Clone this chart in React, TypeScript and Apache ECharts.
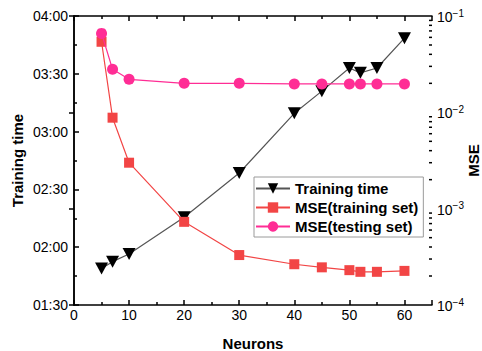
import React, { useEffect, useRef } from 'react';
import * as echarts from 'echarts';

const neurons = [5, 7, 10, 20, 30, 40, 45, 50, 52, 55, 60];
// training time in minutes
const trainingTime = [109, 112.5, 116.5, 135.5, 158.5, 189.5, 201, 213, 210.5, 213, 228.5];
const mseTraining = [0.054, 0.0088, 0.003, 0.00073, 0.00033, 0.000265, 0.000246, 0.00023, 0.000221, 0.000221, 0.000226];
const mseTesting = [0.066, 0.028, 0.022, 0.02, 0.02, 0.0197, 0.0197, 0.0197, 0.0197, 0.0197, 0.0197];
const logMinorTicks = [
  2e-4, 3e-4, 4e-4, 5e-4, 6e-4, 7e-4, 8e-4, 9e-4,
  2e-3, 3e-3, 4e-3, 5e-3, 6e-3, 7e-3, 8e-3, 9e-3,
  2e-2, 3e-2, 4e-2, 5e-2, 6e-2, 7e-2, 8e-2, 9e-2,
];

const BLACK = '#000000';
const GRAY_LINE = '#555555';
const RED = '#F24545';
const PINK = '#FF2D95';
const FONT = 'Arial, "Liberation Sans", sans-serif';

function fmtTime(v: number): string {
  const h = Math.floor(v / 60);
  const m = Math.round(v - h * 60);
  return String(h).padStart(2, '0') + ':' + String(m).padStart(2, '0');
}

export default function App() {
  const ref = useRef<HTMLDivElement>(null);
  useEffect(() => {
    if (!ref.current) return;
    const chart = echarts.init(ref.current, null, { renderer: 'svg' });
    const axisLine = { show: true, lineStyle: { color: BLACK, width: 1.5 } };
    chart.setOption({
      animation: false,
      backgroundColor: '#ffffff',
      grid: { left: 74, right: 50, top: 16, bottom: 46, containLabel: false, outerBoundsMode: 'none' },
      legend: {
        orient: 'vertical',
        left: 254,
        top: 177,
        padding: [4, 5, 3, 1],
        itemGap: 4,
        itemWidth: 34,
        itemHeight: 13,
        backgroundColor: '#ffffff',
        borderColor: '#9a9a9a',
        borderWidth: 1,
        borderRadius: 0,
        textStyle: { fontFamily: FONT, fontSize: 15, fontWeight: 'bold', color: BLACK, lineHeight: 15 },
        data: ['Training time', 'MSE(training set)', 'MSE(testing set)'],
      },
      xAxis: [
        {
          type: 'value',
          min: 0,
          max: 65,
          interval: 10,
          position: 'bottom',
          name: 'Neurons',
          nameLocation: 'middle',
          nameGap: 31,
          nameMoveOverlap: false,
          nameTextStyle: { fontFamily: FONT, fontSize: 15, fontWeight: 'bold', color: BLACK },
          axisLine,
          axisTick: { show: true, inside: true, length: 5, lineStyle: { color: BLACK, width: 1.5 } },
          minorTick: { show: true, splitNumber: 2, length: 3, lineStyle: { color: BLACK, width: 1.5 } },
          axisLabel: {
            margin: 3,
            fontFamily: FONT,
            fontSize: 14,
            color: BLACK,
            formatter: (v: number) => (v > 60 ? '' : String(v)),
          },
          splitLine: { show: false },
        },
        {
          type: 'value',
          min: 0,
          max: 65,
          interval: 10,
          position: 'top',
          axisLine,
          axisTick: { show: true, inside: true, length: 5, lineStyle: { color: BLACK, width: 1.5 } },
          minorTick: { show: true, splitNumber: 2, length: 3, lineStyle: { color: BLACK, width: 1.5 } },
          axisLabel: { show: false },
          splitLine: { show: false },
        },
      ],
      yAxis: [
        {
          type: 'value',
          min: 90,
          max: 240,
          interval: 30,
          position: 'left',
          name: 'Training time',
          nameLocation: 'middle',
          nameGap: 49,
          nameMoveOverlap: false,
          nameTextStyle: { fontFamily: FONT, fontSize: 15, fontWeight: 'bold', color: BLACK },
          axisLine,
          axisTick: { show: true, inside: true, length: 5, lineStyle: { color: BLACK, width: 1.5 } },
          minorTick: { show: true, splitNumber: 2, length: 3, lineStyle: { color: BLACK, width: 1.5 } },
          axisLabel: { margin: 6, fontFamily: FONT, fontSize: 14, color: BLACK, formatter: fmtTime },
          splitLine: { show: false },
        },
        {
          type: 'log',
          logBase: 10,
          min: 1e-4,
          max: 1e-1,
          position: 'right',
          name: 'MSE',
          nameLocation: 'middle',
          nameGap: 34,
          nameRotate: 90,
          nameMoveOverlap: false,
          nameTextStyle: { fontFamily: FONT, fontSize: 15, fontWeight: 'bold', color: BLACK },
          axisLine,
          axisTick: { show: true, inside: true, length: 5, lineStyle: { color: BLACK, width: 1.5 } },
          axisLabel: {
            margin: 5,
            fontFamily: FONT,
            color: BLACK,
            formatter: (v: number) => {
              const e = Math.round(Math.log10(v));
              return '{b|10}{s|\u2212' + Math.abs(e) + '}';
            },
            rich: {
              b: { fontFamily: FONT, fontSize: 14, color: BLACK, lineHeight: 16, verticalAlign: 'bottom' },
              s: { fontFamily: FONT, fontSize: 10, color: BLACK, lineHeight: 16, verticalAlign: 'top', padding: [0, 0, 6, 0] },
            },
          },
          splitLine: { show: false },
        },
      ],
      series: [
        {
          name: 'Training time',
          type: 'line',
          xAxisIndex: 0,
          yAxisIndex: 0,
          data: neurons.map((n, i) => [n, trainingTime[i]]),
          symbol: 'triangle',
          symbolRotate: 180,
          symbolSize: [13, 12],
          itemStyle: { color: BLACK },
          lineStyle: { color: GRAY_LINE, width: 1.2 },
          z: 2,
        },
        {
          name: 'MSE(training set)',
          type: 'line',
          xAxisIndex: 0,
          yAxisIndex: 1,
          data: neurons.map((n, i) => [n, mseTraining[i]]),
          symbol: 'rect',
          symbolSize: 10,
          itemStyle: { color: RED },
          lineStyle: { color: RED, width: 1.2 },
          z: 3,
        },
        {
          name: 'MSE(testing set)',
          type: 'line',
          xAxisIndex: 0,
          yAxisIndex: 1,
          data: neurons.map((n, i) => [n, mseTesting[i]]),
          symbol: 'circle',
          symbolSize: 11,
          itemStyle: { color: PINK },
          lineStyle: { color: PINK, width: 1.2 },
          z: 4,
        },
        {
          name: 'logMinor',
          type: 'custom',
          xAxisIndex: 0,
          yAxisIndex: 1,
          silent: true,
          clip: false,
          data: logMinorTicks.map((v) => [65, v]),
          renderItem: (params: any, api: any) => {
            const p = api.coord([api.value(0), api.value(1)]);
            return {
              type: 'line',
              shape: { x1: p[0] - 3, y1: p[1], x2: p[0], y2: p[1] },
              style: { stroke: BLACK, lineWidth: 1.5 },
            };
          },
          z: 5,
        },
      ],
    });
    return () => chart.dispose();
  }, []);
  return (
    <div
      ref={ref}
      style={{ position: 'fixed', left: 0, top: 0, width: 482, height: 351, overflow: 'hidden' }}
    />
  );
}
